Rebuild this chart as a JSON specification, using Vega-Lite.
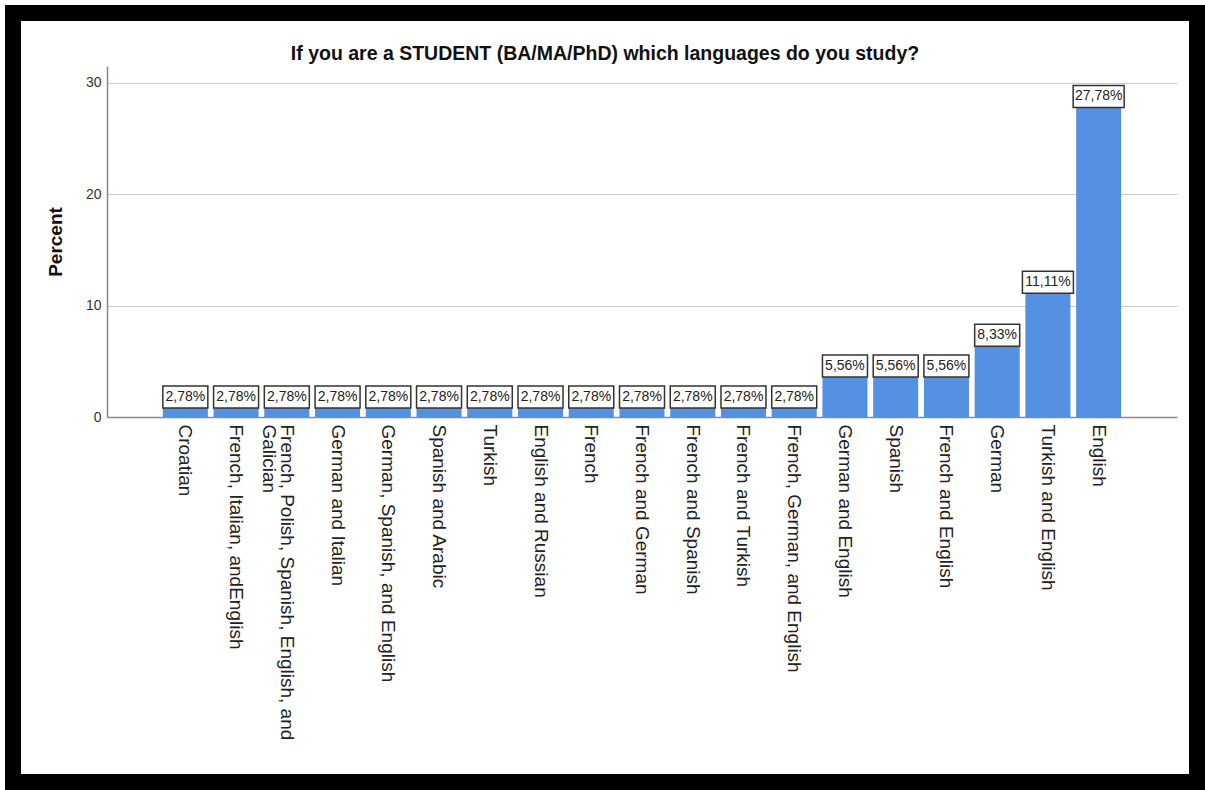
{
  "$schema": "https://vega.github.io/schema/vega-lite/v6.json",
  "autosize": "none",
  "width": 1184,
  "height": 769,
  "padding": {"left": 13, "top": 13, "right": 8, "bottom": 8},
  "background": "white",
  "title": {
    "text": "If you are a STUDENT (BA/MA/PhD) which languages do you study?",
    "font": "Liberation Sans",
    "fontSize": 19.5,
    "fontWeight": "bold",
    "color": "#111111",
    "anchor": "middle",
    "frame": "group",
    "baseline": "middle",
    "offset": -60
  },
  "data": {
    "values": [
      {"language": "Croatian", "pct": 2.78},
      {"language": "French, Italian, andEnglish", "pct": 2.78},
      {"language": "French, Polish, Spanish, English, and Galician", "pct": 2.78},
      {"language": "German and Italian", "pct": 2.78},
      {"language": "German, Spanish, and English", "pct": 2.78},
      {"language": "Spanish and Arabic", "pct": 2.78},
      {"language": "Turkish", "pct": 2.78},
      {"language": "English and Russian", "pct": 2.78},
      {"language": "French", "pct": 2.78},
      {"language": "French and German", "pct": 2.78},
      {"language": "French and Spanish", "pct": 2.78},
      {"language": "French and Turkish", "pct": 2.78},
      {"language": "French, German, and English", "pct": 2.78},
      {"language": "German and English", "pct": 5.56},
      {"language": "Spanish", "pct": 5.56},
      {"language": "French and English", "pct": 5.56},
      {"language": "German", "pct": 8.33},
      {"language": "Turkish and English", "pct": 11.11},
      {"language": "English", "pct": 27.78}
    ]
  },
  "encoding": {
    "x": {
      "field": "language",
      "type": "nominal",
      "sort": null,
      "scale": {
        "domain": [" ", "Croatian", "French, Italian, andEnglish", "French, Polish, Spanish, English, and Galician", "German and Italian", "German, Spanish, and English", "Spanish and Arabic", "Turkish", "English and Russian", "French", "French and German", "French and Spanish", "French and Turkish", "French, German, and English", "German and English", "Spanish", "French and English", "German", "Turkish and English", "English", "  "],
        "range": [94, 1164],
        "paddingInner": 0.112,
        "paddingOuter": 0.1
      },
      "axis": {
        "title": null,
        "offset": -365,
        "labelAngle": 90,
        "labelFont": "Liberation Sans",
        "labelFontSize": 19,
        "labelColor": "#222222",
        "labelPadding": 7,
        "labelLimit": 0,
        "labelOverlap": false,
        "labelLineHeight": 18,
        "labelExpr": "datum.value == 'French, Polish, Spanish, English, and Galician' ? ['French, Polish, Spanish, English, and', 'Galician'] : datum.label",
        "ticks": false,
        "grid": false,
        "domainColor": "#8a8a8a",
        "domainWidth": 1.5
      }
    },
    "y": {
      "field": "pct",
      "type": "quantitative",
      "scale": {"domain": [0, 31.5], "range": [404, 53], "nice": false, "zero": true},
      "axis": {
        "title": "Percent",
        "titleFont": "Liberation Sans",
        "titleFontSize": 19,
        "titleFontWeight": "bold",
        "titleColor": "#111111",
        "titlePadding": 20,
        "offset": -94,
        "values": [0, 10, 20, 30],
        "labelFont": "Liberation Sans",
        "labelFontSize": 14,
        "labelColor": "#333333",
        "labelPadding": 6,
        "ticks": false,
        "grid": true,
        "gridColor": "#cccccc",
        "gridWidth": 1,
        "domainColor": "#8a8a8a",
        "domainWidth": 1.5
      }
    }
  },
  "layer": [
    {"mark": {"type": "bar", "color": "#5591e2"}},
    {
      "transform": [{"filter": "datum.pct <= 10"}],
      "mark": {"type": "point", "shape": "M-1,-0.49H1V0.49H-1Z", "size": 2025, "filled": true, "fill": "white", "stroke": "#333333", "strokeWidth": 1.5, "opacity": 1, "yOffset": 11}
    },
    {
      "transform": [{"filter": "datum.pct > 10"}],
      "mark": {"type": "point", "shape": "M-1,-0.43H1V0.43H-1Z", "size": 2601, "filled": true, "fill": "white", "stroke": "#333333", "strokeWidth": 1.5, "opacity": 1, "yOffset": -11}
    },
    {
      "transform": [{"filter": "datum.pct <= 10"}],
      "mark": {"type": "text", "font": "Liberation Sans", "fontSize": 14, "color": "#222222", "align": "center", "baseline": "middle", "yOffset": 11},
      "encoding": {"text": {"field": "pct", "type": "quantitative", "format": "$.2f"}}
    },
    {
      "transform": [{"filter": "datum.pct > 10"}],
      "mark": {"type": "text", "font": "Liberation Sans", "fontSize": 14, "color": "#222222", "align": "center", "baseline": "middle", "yOffset": -11},
      "encoding": {"text": {"field": "pct", "type": "quantitative", "format": "$.2f"}}
    }
  ],
  "config": {
    "view": {"fill": "white", "stroke": "black", "strokeWidth": 16},
    "locale": {"number": {"decimal": ",", "thousands": ".", "grouping": [3], "currency": ["", "%"]}}
  }
}
